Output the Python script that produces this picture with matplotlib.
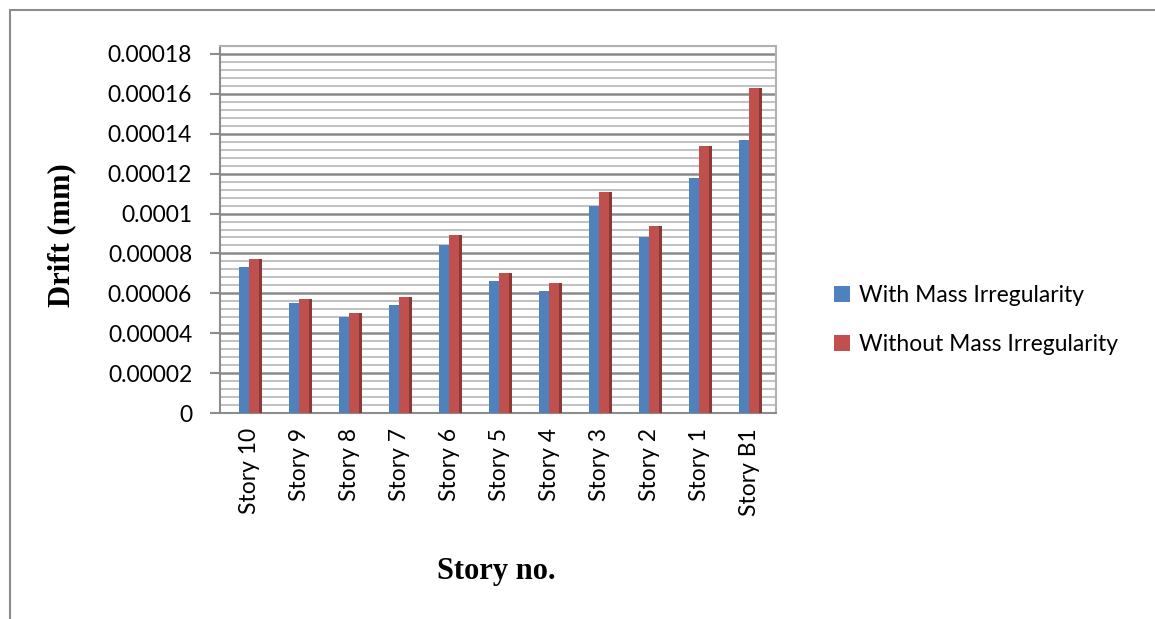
import matplotlib
matplotlib.use('Agg')
import matplotlib.pyplot as plt
from matplotlib.patches import Rectangle
from matplotlib.ticker import MultipleLocator, FixedLocator
import numpy as np

# chart data
stories = ['Story 10', 'Story 9', 'Story 8', 'Story 7', 'Story 6', 'Story 5',
           'Story 4', 'Story 3', 'Story 2', 'Story 1', 'Story B1']
with_mass = [0.000073, 0.000055, 0.000048, 0.000054, 0.000084, 0.000066,
             0.000061, 0.000104, 0.000088, 0.000118, 0.000137]
without_mass = [0.000077, 0.000057, 0.000050, 0.000058, 0.000089, 0.000070,
                0.000065, 0.000111, 0.000094, 0.000134, 0.000163]
y_ticks = [0, 0.00002, 0.00004, 0.00006, 0.00008, 0.0001, 0.00012, 0.00014, 0.00016, 0.00018]
y_tick_labels = ['0', '0.00002', '0.00004', '0.00006', '0.00008', '0.0001',
                 '0.00012', '0.00014', '0.00016', '0.00018']

blue = '#4F81BD'
red = '#C0504D'
blue_side = '#385D8A'
red_side = '#8C3836'

fig = plt.figure(figsize=(11.55, 6.19), dpi=100)
ax = fig.add_axes([220 / 1155, 1 - 413 / 619, 556 / 1155, (413 - 46) / 619])

# outer chart border
fig.add_artist(Rectangle((10 / 1155, -0.5), 2, 0.5 + 1 - 10 / 619, transform=fig.transFigure,
                         fill=False, edgecolor='#8c8c8c', linewidth=1.5))

x = np.arange(len(stories))
w = 0.2
side = 0.06

# darker side faces give the bars a bit of depth
ax.bar(x + side / 2, with_mass, width=side, color=blue_side, zorder=3)
ax.bar(x - w / 2, with_mass, width=w, color=blue, label='With Mass Irregularity', zorder=4)
ax.bar(x + w + side / 2, without_mass, width=side, color=red_side, zorder=3)
ax.bar(x + w / 2, without_mass, width=w, color=red, label='Without Mass Irregularity', zorder=4)

ax.set_xlim(-0.58, 10.54)
ax.set_ylim(0, 0.000184)

ax.yaxis.set_major_locator(FixedLocator(y_ticks))
ax.set_yticklabels(y_tick_labels)
ax.yaxis.set_minor_locator(MultipleLocator(0.000004))
ax.grid(axis='y', which='major', color='#8a8a8a', linewidth=1.8, zorder=0)
ax.grid(axis='y', which='minor', color='#c2c2c2', linewidth=1.5, zorder=0)

ax.set_xticks(x)
ax.set_xticklabels(stories, rotation=90, fontsize=16.5, family='Lato')
ax.tick_params(axis='x', length=0, pad=11)
ax.tick_params(axis='y', which='major', length=7, width=1.5, color='#8c8c8c',
               labelsize=16.5, pad=13)
ax.tick_params(axis='y', which='minor', length=0)
for lab in ax.get_yticklabels():
    lab.set_family('Lato')

for s in ['left', 'bottom', 'top', 'right']:
    ax.spines[s].set_color('#8c8c8c')
    ax.spines[s].set_linewidth(1.5)
ax.spines['top'].set_color('#b0b0b0')
ax.spines['right'].set_color('#b0b0b0')

fig.text(62 / 1155, 1 - 235 / 619, 'Drift (mm)', rotation=90, ha='center', va='center',
         fontsize=22, fontweight='bold', family='Liberation Serif')
fig.text(496 / 1155, 1 - 572 / 619, 'Story no.', ha='center', va='center',
         fontsize=22, fontweight='bold', family='Liberation Serif')

fig.legend(loc='center left', bbox_to_anchor=(813 / 1155, 1 - 320 / 619), frameon=False,
           prop={'family': 'Lato', 'size': 16.5}, handlelength=0.7, handleheight=0.7,
           handletextpad=0.4, labelspacing=1.2)

fig.savefig('out.png', dpi=100)
